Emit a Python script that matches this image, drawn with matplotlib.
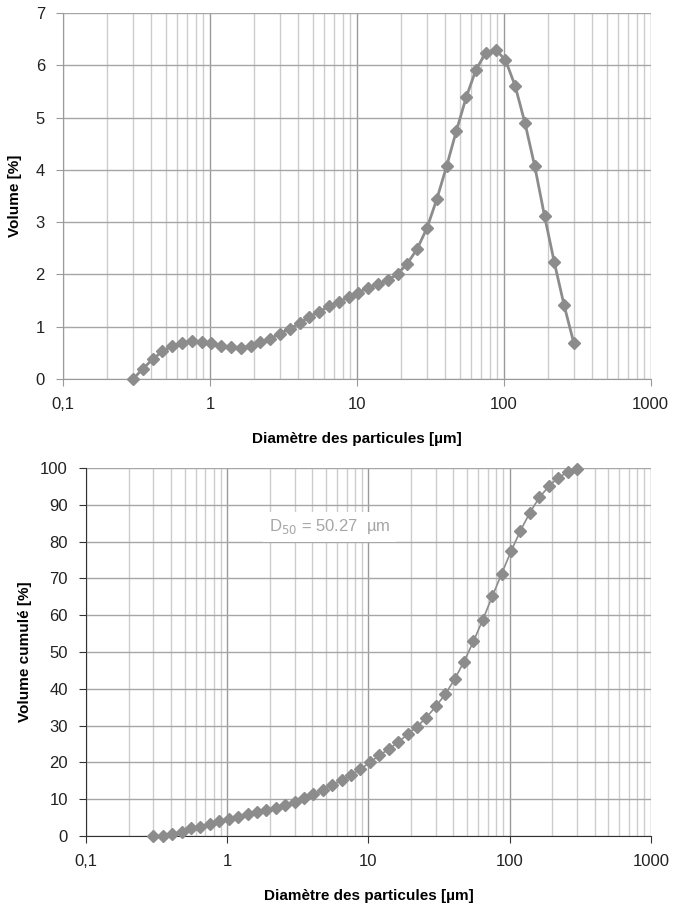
import matplotlib
matplotlib.use('Agg')
from matplotlib import pyplot as plt
from matplotlib.ticker import FixedLocator, FixedFormatter, NullFormatter, LogLocator

plt.rcParams['font.family'] = ['Liberation Sans', 'DejaVu Sans']

# diamètres des classes (µm), 15 classes par décade
diam = [0.300, 0.350, 0.408, 0.475, 0.554, 0.646, 0.754, 0.879, 1.024, 1.194,
        1.393, 1.624, 1.893, 2.207, 2.573, 3.000, 3.498, 4.078, 4.755, 5.544,
        6.463, 7.536, 8.786, 10.24, 11.94, 13.93, 16.24, 18.93, 22.07, 25.73,
        30.00, 34.98, 40.78, 47.55, 55.44, 64.63, 75.36, 87.86, 102.4, 119.4,
        139.3, 162.4, 189.3, 220.7, 257.3, 300.0]

# distribution en volume (%)
volume = [0.00, 0.20, 0.38, 0.53, 0.63, 0.69, 0.73, 0.71, 0.68, 0.63,
          0.61, 0.60, 0.63, 0.71, 0.77, 0.87, 0.96, 1.07, 1.19, 1.29,
          1.39, 1.47, 1.57, 1.65, 1.75, 1.81, 1.89, 2.01, 2.21, 2.49,
          2.89, 3.44, 4.07, 4.75, 5.39, 5.92, 6.24, 6.30, 6.11, 5.61,
          4.90, 4.07, 3.12, 2.23, 1.41, 0.68]

# volume cumulé (%)
cumul = [0.0, 0.0, 0.45, 1.0, 2.1, 2.5, 3.4, 4.2, 4.6, 5.3,
         5.9, 6.5, 7.1, 7.7, 8.5, 9.3, 10.2, 11.3, 12.5, 13.8,
         15.2, 16.6, 18.2, 20.0, 21.9, 23.6, 25.5, 27.6, 29.7, 32.2,
         35.2, 38.5, 42.6, 47.4, 52.9, 58.8, 65.1, 71.3, 77.4, 83.0,
         87.9, 92.0, 95.0, 97.4, 98.8, 99.6]

x_ticks = [0.1, 1, 10, 100, 1000]
x_labels = ['0,1', '1', '10', '100', '1000']
d50_text = 'D$_{50}$ = 50.27  µm'

gris = '#8c8c8c'

fig = plt.figure(figsize=(6.74, 9.10), dpi=100)
ax1 = fig.add_axes([0.0935, 0.5835, 0.872, 0.402])
ax2 = fig.add_axes([0.1276, 0.0813, 0.838, 0.4044])


def mise_en_forme(ax, ymax, ystep, spine_color):
    ax.set_xscale('log')
    ax.set_xlim(0.1, 1000)
    ax.set_ylim(0, ymax)
    ax.xaxis.set_major_locator(FixedLocator(x_ticks))
    ax.xaxis.set_major_formatter(FixedFormatter(x_labels))
    ax.xaxis.set_minor_locator(LogLocator(base=10, subs=range(2, 10)))
    ax.xaxis.set_minor_formatter(NullFormatter())
    ax.set_yticks(range(0, ymax + 1, ystep))
    ax.grid(True, which='major', axis='x', color='#9a9a9a', lw=1)
    ax.grid(True, which='minor', axis='x', color='#cccccc', lw=1)
    ax.grid(True, which='major', axis='y', color='#a6a6a6', lw=1)
    ax.set_axisbelow(True)
    for s in ['top', 'right']:
        ax.spines[s].set_visible(False)
    for s in ['left', 'bottom']:
        ax.spines[s].set_color(spine_color)
    ax.tick_params(which='major', direction='out', length=5, color=spine_color,
                   labelsize=12, labelcolor='#222222', pad=8)
    ax.tick_params(which='minor', length=0)
    ax.set_xlabel('Diamètre des particules [µm]', fontsize=11, fontweight='bold', labelpad=14)


mise_en_forme(ax1, 7, 1, '#9a9a9a')
ax1.plot(diam, volume, color=gris, lw=2, marker='D', ms=6, mec=gris, mfc=gris, clip_on=False, zorder=3)
ax1.set_ylabel('Volume [%]', fontsize=11, fontweight='bold', labelpad=10)

mise_en_forme(ax2, 100, 10, '#333333')
ax2.plot(diam, cumul, color=gris, lw=1.2, marker='D', ms=6, mec=gris, mfc=gris, clip_on=False, zorder=3)
ax2.set_ylabel('Volume cumulé [%]', fontsize=11, fontweight='bold', labelpad=6)
ax2.text(5.3, 84, d50_text, fontsize=12, color='#a6a6a6', ha='center', va='center',
         bbox=dict(facecolor='white', edgecolor='none', pad=4), zorder=2)

fig.savefig('out.png', dpi=100)
